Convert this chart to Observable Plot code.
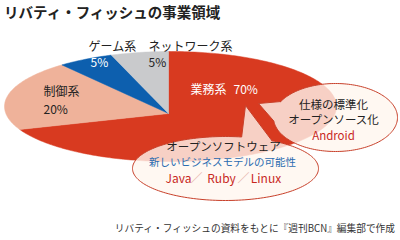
<!DOCTYPE html>
<html><head><meta charset="utf-8">
<script src="https://cdn.jsdelivr.net/npm/d3@7"></script>
<script src="https://cdn.jsdelivr.net/npm/@observablehq/plot@0.6"></script>
<style>
body{margin:0;width:400px;height:240px;overflow:hidden;background:#fff;font-family:"Noto Sans CJK JP",sans-serif;}
#title{height:24px;line-height:24px;font-size:14.5px;font-weight:bold;padding-left:4px;color:#222;white-space:nowrap;}
#chart{height:192px;}
#caption{height:24px;line-height:24px;font-size:9.7px;color:#333;text-align:right;padding-right:5px;white-space:nowrap;}
</style></head><body>
<div id="title"></div>
<div id="chart"></div>
<div id="caption"></div>
<script>
// ---- data ----
const titleText = "リバティ・フィッシュの事業領域";
const captionText = "リバティ・フィッシュの資料をもとに『週刊BCN』編集部で作成";
const categories = ["業務系", "制御系", "ゲーム系", "ネットワーク系"];
const shares = [70, 20, 5, 5];
const sliceColors = ["#d83a20", "#efb29a", "#0d5fae", "#c9cacc"];
const bubble1Lines = ["仕様の標準化", "オープンソース化", "Android"];
const bubble2Lines = ["オープンソフトウェア", "新しいビジネスモデルの可能性"];
const openSourceItems = ["Java", "Ruby", "Linux"];

// ---- layout (page pixel coordinates) ----
const ell = {cx: 170, cy: 106, rx: 166, ry: 55};   // pie outline
const apex = {x: 168, y: 113};                     // where slices meet
const catLabelPos = [[190, 90], [43, 92], [88, 47], [148, 47]];
const valLabelPos = [[233, 90], [43, 110], [90, 63], [148, 63]];
const labelColors = ["#fff", "#222", "#222", "#222"];
const valColors = ["#fff", "#222", "#fff", "#222"];
const bubbles = [
  {cx: 335, cy: 117, rx: 62, ry: 34, t0: 174, t1: 208, tip: {x: 258, y: 103}},
  {cx: 225, cy: 168, rx: 93, ry: 32, t0: 280, t1: 300, tip: {x: 245, y: 105}}
];
const b1TextPos = [[333, 105], [333, 120], [333, 136]];
const b2TextPos = [[223, 147], [222, 162]];
const itemX = [178, 221, 265.5], slashX = [196, 243], itemY = 179;

document.getElementById("title").textContent = titleText;
document.getElementById("caption").textContent = captionText;

// ---- pie geometry ----
function edgePoint(a) {
  const dx = ell.rx * Math.sin(a), dy = -ell.ry * Math.cos(a);
  const px = apex.x - ell.cx, py = apex.y - ell.cy;
  const A = (dx / ell.rx) ** 2 + (dy / ell.ry) ** 2;
  const B = 2 * (px * dx / ell.rx ** 2 + py * dy / ell.ry ** 2);
  const C = (px / ell.rx) ** 2 + (py / ell.ry) ** 2 - 1;
  const t = (-B + Math.sqrt(B * B - 4 * A * C)) / (2 * A);
  return {x: apex.x + t * dx, y: apex.y + t * dy};
}
const arcs = d3.pie().sort(null).value(d => d)(shares);
const slicePolys = arcs.map(arc => {
  const pts = [{x: apex.x, y: apex.y}];
  const n = Math.max(4, Math.ceil((arc.endAngle - arc.startAngle) / (Math.PI / 180)));
  for (let i = 0; i <= n; i++) pts.push(edgePoint(arc.startAngle + (arc.endAngle - arc.startAngle) * i / n));
  pts.push({x: apex.x, y: apex.y});
  return pts;
});

function bubblePath(b) {
  const pts = [];
  for (let deg = b.t1; deg <= b.t0 + 360; deg += 2) {
    const r = deg * Math.PI / 180;
    pts.push({x: b.cx + b.rx * Math.cos(r), y: b.cy + b.ry * Math.sin(r)});
  }
  const r0 = b.t0 * Math.PI / 180;
  pts.push({x: b.cx + b.rx * Math.cos(r0), y: b.cy + b.ry * Math.sin(r0)});
  pts.push(b.tip);
  pts.push(pts[0]);
  return pts;
}

const FONT = "Noto Sans CJK JP";
const marks = [];
slicePolys.forEach((pts, i) => marks.push(Plot.line(pts, {x: "x", y: "y", fill: sliceColors[i], stroke: sliceColors[i], strokeWidth: 0.5})));
bubbles.forEach(b => marks.push(Plot.line(bubblePath(b), {x: "x", y: "y", fill: "#fff6ef", fillOpacity: 0.8, stroke: "#c8402a", strokeWidth: 1})));

const catData = categories.map((c, i) => ({t: c, x: catLabelPos[i][0], y: catLabelPos[i][1], c: labelColors[i]}));
const valData = shares.map((v, i) => ({t: v + "%", x: valLabelPos[i][0], y: valLabelPos[i][1], c: valColors[i]}));
marks.push(Plot.text(catData.concat(valData), {x: "x", y: "y", text: "t", fill: d => d.c, textAnchor: "start", fontSize: 12, fontFamily: FONT}));

const b1Data = bubble1Lines.map((t, i) => ({t, x: b1TextPos[i][0], y: b1TextPos[i][1], c: i === 2 ? "#c8281e" : "#222"}));
marks.push(Plot.text(b1Data, {x: "x", y: "y", text: "t", fill: d => d.c, fontSize: 11.5, fontFamily: FONT}));
marks.push(Plot.text([{t: bubble2Lines[0], x: b2TextPos[0][0], y: b2TextPos[0][1]}], {x: "x", y: "y", text: "t", fill: "#222", fontSize: 11.5, fontFamily: FONT}));
marks.push(Plot.text([{t: bubble2Lines[1], x: b2TextPos[1][0], y: b2TextPos[1][1]}], {x: "x", y: "y", text: "t", fill: "#2b6cb0", fontSize: 10.5, fontFamily: FONT}));
marks.push(Plot.text(openSourceItems.map((t, i) => ({t, x: itemX[i], y: itemY})), {x: "x", y: "y", text: "t", fill: "#c8281e", fontSize: 12, fontFamily: FONT}));
marks.push(Plot.text(slashX.map(x => ({t: "／", x, y: itemY})), {x: "x", y: "y", text: "t", fill: "#e6b4ab", fontSize: 12, fontFamily: FONT}));

const chart = Plot.plot({
  width: 400, height: 192, margin: 0,
  x: {domain: [0, 400], range: [0, 400], axis: null},
  y: {domain: [24, 216], range: [0, 192], axis: null},
  style: {fontFamily: FONT, background: "transparent"},
  marks
});
document.getElementById("chart").appendChild(chart);
</script>
</body></html>
